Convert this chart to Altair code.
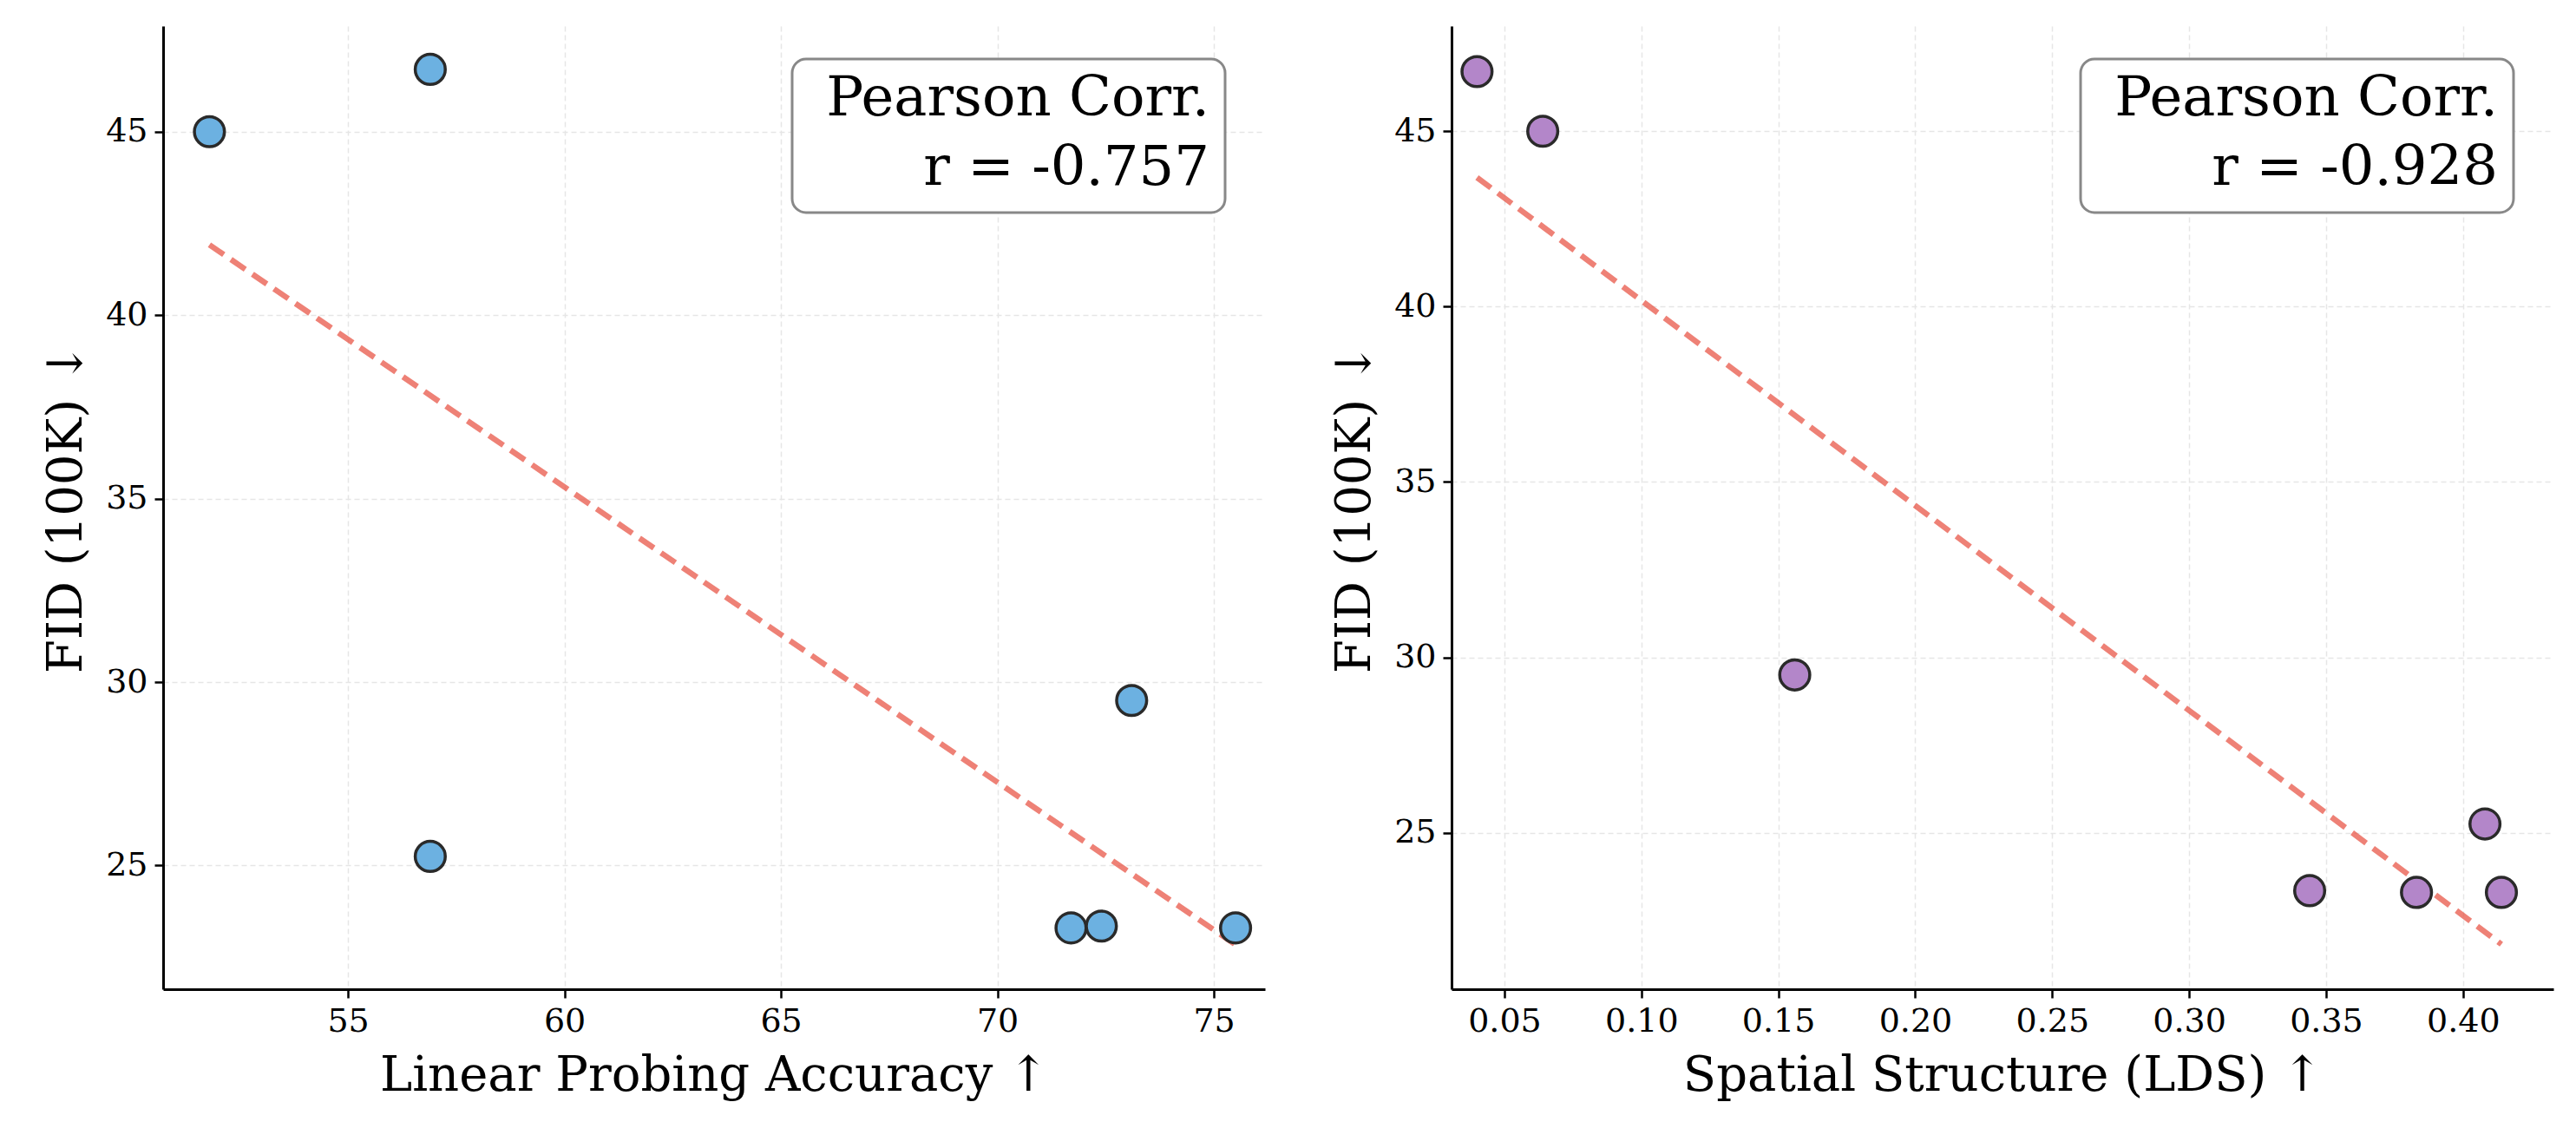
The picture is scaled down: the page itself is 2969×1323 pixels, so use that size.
import altair as alt
import pandas as pd

#===== data =====
lp_acc = [51.8, 56.9, 56.9, 73.1, 71.7, 72.4, 75.5]
lp_fid = [45.0, 46.7, 25.25, 29.5, 23.3, 23.35, 23.3]
lds = [0.040, 0.064, 0.156, 0.344, 0.383, 0.408, 0.414]
lds_fid = [46.7, 45.0, 29.5, 23.35, 23.3, 25.25, 23.3]
corr_text = ["Pearson Corr.", "r = -0.757"], ["Pearson Corr.", "r = -0.928"]

FONT = "DejaVu Serif"
W, H = 1270, 1110


def panel(x, y, xtitle, xdom, ydom, xticks, fmt, fill, label):
    df = pd.DataFrame({"x": x, "y": y})
    base = alt.Chart(df)
    xs = alt.Scale(domain=xdom, nice=False, zero=False)
    ys = alt.Scale(domain=ydom, nice=False, zero=False)
    X = alt.X("x:Q", scale=xs, title=xtitle,
              axis=alt.Axis(values=xticks, format=fmt))
    Y = alt.Y("y:Q", scale=ys, title="FID (100K) ↓",
              axis=alt.Axis(values=[25, 30, 35, 40, 45]))
    line = base.transform_regression("x", "y").mark_line(
        color="#e74c3c", opacity=0.7, strokeWidth=6.5, strokeDash=[20, 10]
    ).encode(x=X, y=Y)
    pts = base.mark_circle(size=1200, fill=fill, opacity=1, stroke="#2a2a2a",
                           strokeWidth=3.5).encode(x=X, y=Y)
    box = alt.Chart(pd.DataFrame({"a": [0]})).mark_rect(
        fill="white", stroke="#888888", strokeWidth=3, cornerRadius=16
    ).encode(x=alt.value(725), x2=alt.value(1224), y=alt.value(38), y2=alt.value(215))
    txt = alt.Chart(pd.DataFrame({"t": [label]})).mark_text(
        align="right", baseline="top", font=FONT, fontSize=64, lineHeight=80
    ).encode(x=alt.value(1206), y=alt.value(52), text="t")
    return alt.layer(line, pts, box, txt).properties(width=W, height=H)


left = panel(lp_acc, lp_fid, "Linear Probing Accuracy ↑", [50.73, 76.18], [21.63, 47.88],
             [55, 60, 65, 70, 75], "d", "#6cb1e1", corr_text[0])
right = panel(lds, lds_fid, "Spatial Structure (LDS) ↑", [0.0307, 0.433], [20.54, 48.0],
              [0.05, 0.10, 0.15, 0.20, 0.25, 0.30, 0.35, 0.40], ".2f", "#b386c9", corr_text[1])

chart = alt.hconcat(left, right, spacing=75).configure(
    background="white", font=FONT, padding={"left": 40, "top": 22, "right": 5, "bottom": 5}
).configure_view(stroke=None).configure_axis(
    grid=True, gridColor="#e6e6e6", gridDash=[6, 4], gridWidth=1.5,
    domainColor="black", domainWidth=3, tickColor="black", tickWidth=2.5, tickSize=10,
    labelFont=FONT, labelFontSize=38, labelColor="black", labelPadding=8,
    titleFont=FONT, titleFontSize=56, titleFontWeight="normal", titleColor="black",
    titlePadding=16
)

chart.save("out.html", embed_options={"renderer": "svg", "actions": False})
